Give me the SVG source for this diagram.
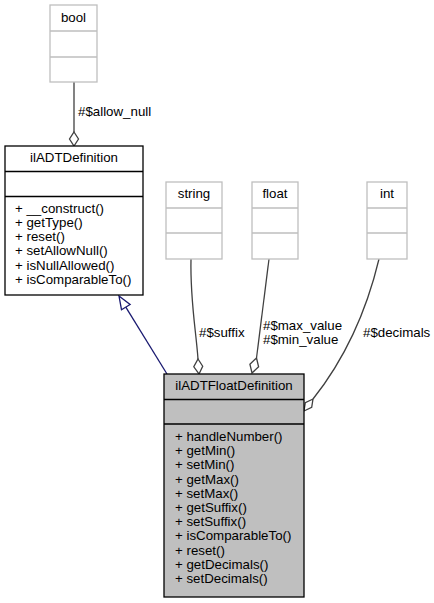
<svg xmlns="http://www.w3.org/2000/svg" width="434" height="603" viewBox="0 0 434 603">
<style>
text{font-family:"Liberation Sans",Arial,Helvetica,sans-serif;font-size:13.3px;fill:#000}
.c{text-anchor:middle}
.gbox{fill:#fff;stroke:#bfbfbf;stroke-width:1.3}
.box{fill:#fff;stroke:#000;stroke-width:1.3}
.sel{fill:#bfbfbf;stroke:#000;stroke-width:1.3}
.agg{fill:none;stroke:#404040;stroke-width:1.3}
.aggh{fill:#fff;stroke:#404040;stroke-width:1.3}
.inh{fill:none;stroke:#191970;stroke-width:1.3}
.inhh{fill:#fff;stroke:#191970;stroke-width:1.3}
</style>
<rect width="434" height="603" fill="#fff"/>
<g id="edges">
<path class="agg" d="M74,82 L74,132"/>
<polygon class="aggh" points="74,132 78.5,139 74,146 69.5,139"/>
<text x="78" y="116">#$allow_null</text>
<path class="inh" d="M167,374 L125.8,307.1"/>
<polygon class="inhh" points="119,296 130.1,304.5 121.5,309.7"/>
<path class="agg" d="M191,259 C190,300 196,330 198,359"/>
<polygon class="aggh" points="198,359 202.7,366.2 199,374 193.8,366.8"/>
<text x="199" y="337">#$suffix</text>
<path class="agg" d="M269,259 L256.5,358"/>
<polygon class="aggh" points="256.5,358 258.6,366.8 252,373 249.9,364.2"/>
<text x="263" y="330">#$max_value</text>
<text x="263" y="344">#$min_value</text>
<path class="agg" d="M379,259 C368,305 348,355 313,399"/>
<polygon class="aggh" points="313,399 311.7,407.4 304,411 305.3,402.6"/>
<text x="363" y="337">#$decimals</text>
</g>
<g id="bool">
<rect class="gbox" x="50" y="5" width="47" height="77"/>
<path class="gbox" d="M50,31 H97 M50,57 H97"/>
<text class="c" x="73.5" y="22">bool</text>
</g>
<g id="ilADTDefinition">
<rect class="box" x="5" y="146" width="138" height="149"/>
<path class="box" d="M5,171.5 H143 M5,196.5 H143"/>
<text class="c" x="74" y="162">ilADTDefinition</text>
<text x="15" y="212.7">+ __construct()</text>
<text x="15" y="226.9">+ getType()</text>
<text x="15" y="241.1">+ reset()</text>
<text x="15" y="255.3">+ setAllowNull()</text>
<text x="15" y="269.5">+ isNullAllowed()</text>
<text x="15" y="283.7">+ isComparableTo()</text>
</g>
<g id="string">
<rect class="gbox" x="166" y="182" width="56" height="77"/>
<path class="gbox" d="M166,208 H222 M166,233 H222"/>
<text class="c" x="194" y="198">string</text>
</g>
<g id="float">
<rect class="gbox" x="252" y="182" width="46" height="77"/>
<path class="gbox" d="M252,208 H298 M252,233 H298"/>
<text class="c" x="275" y="198">float</text>
</g>
<g id="int">
<rect class="gbox" x="367" y="182" width="40" height="77"/>
<path class="gbox" d="M367,208 H407 M367,233 H407"/>
<text class="c" x="387" y="198">int</text>
</g>
<g id="ilADTFloatDefinition">
<rect class="sel" x="164" y="374" width="140" height="223"/>
<path class="sel" d="M164,399.5 H304 M164,424 H304"/>
<text class="c" x="234" y="390">ilADTFloatDefinition</text>
<text x="175" y="441">+ handleNumber()</text>
<text x="175" y="455.2">+ getMin()</text>
<text x="175" y="469.4">+ setMin()</text>
<text x="175" y="483.6">+ getMax()</text>
<text x="175" y="497.8">+ setMax()</text>
<text x="175" y="512">+ getSuffix()</text>
<text x="175" y="526.2">+ setSuffix()</text>
<text x="175" y="540.4">+ isComparableTo()</text>
<text x="175" y="554.6">+ reset()</text>
<text x="175" y="568.8">+ getDecimals()</text>
<text x="175" y="583">+ setDecimals()</text>
</g>
</svg>
